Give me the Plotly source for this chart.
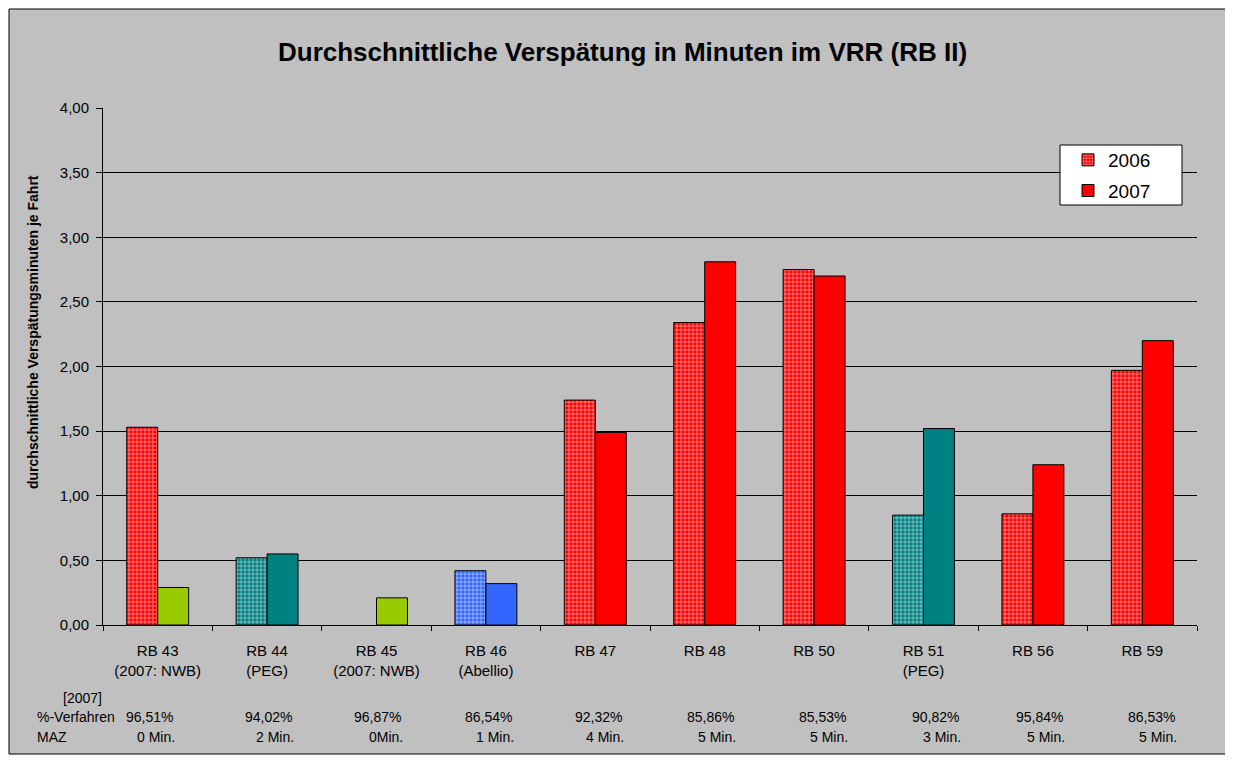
import plotly.graph_objects as go

# ---------------- data ----------------
categories = ["RB 43<br>(2007: NWB)", "RB 44<br>(PEG)", "RB 45<br>(2007: NWB)", "RB 46<br>(Abellio)",
              "RB 47", "RB 48", "RB 50", "RB 51<br>(PEG)", "RB 56", "RB 59"]
values_2006 = [1.53, 0.52, None, 0.42, 1.74, 2.34, 2.75, 0.85, 0.86, 1.97]
values_2007 = [0.29, 0.55, 0.21, 0.32, 1.49, 2.81, 2.70, 1.52, 1.24, 2.20]
verfahren_2007 = ["96,51%", "94,02%", "96,87%", "86,54%", "92,32%", "85,86%", "85,53%", "90,82%", "95,84%", "86,53%"]
maz_2007 = ["0 Min.", "2 Min.", "0Min.", "1 Min.", "4 Min.", "5 Min.", "5 Min.", "3 Min.", "5 Min.", "5 Min."]
series_names = ["2006", "2007"]
title_text = "Durchschnittliche Verspätung in Minuten im VRR (RB II)"
y_title = "durchschnittliche Verspätungsminuten je Fahrt"
y_ticks = [0, 0.5, 1.0, 1.5, 2.0, 2.5, 3.0, 3.5, 4.0]

# ---------------- style ----------------
RED, TEAL, BLUE, GREEN = "#FF0000", "#008080", "#3366FF", "#99CC00"
colors_2006 = [RED, TEAL, RED, BLUE, RED, RED, RED, TEAL, RED, RED]
colors_2007 = [GREEN, TEAL, GREEN, BLUE, RED, RED, RED, TEAL, RED, RED]
table_nudge = [17, 27, 26, 28, 29, 31, 34, 37, 32, 35]  # px right-edge nudges for table text

# page body has an 8px margin -> figure is 8px smaller, layout in reference coords via px/py
OFF = 8
W, H = 1233 - OFF, 762 - OFF
L, R, T, B = 103 - OFF, 36, 108 - OFF, 137
PW, PH = W - L - R, H - T - B
def px(x):  # reference pixel x -> paper
    return (x - OFF - L) / PW
def py(y):  # reference pixel y -> paper
    return (H - B - (y - OFF)) / PH

FONT = "Liberation Sans, Arial, sans-serif"
BW = 0.283
pattern = dict(shape="+", fgcolor="white", fgopacity=0.7, size=4, solidity=0.3)

fig = go.Figure()
fig.add_trace(go.Bar(
    x=categories, y=values_2006, name=series_names[0], showlegend=False,
    offset=-BW, width=BW,
    marker=dict(color=colors_2006, line=dict(color="black", width=1), pattern=pattern),
))
fig.add_trace(go.Bar(
    x=categories, y=values_2007, name=series_names[1], showlegend=False,
    offset=0, width=BW,
    marker=dict(color=colors_2007, line=dict(color="black", width=1)),
))
# legend-only entries
fig.add_trace(go.Bar(
    x=[categories[0]], y=[None], name=series_names[0], showlegend=True, legendgroup="a",
    marker=dict(color=RED, line=dict(color="black", width=1), pattern=pattern),
))
fig.add_trace(go.Bar(
    x=[categories[0]], y=[None], name=series_names[1], showlegend=True, legendgroup="b",
    marker=dict(color=RED, line=dict(color="black", width=1)),
))

annotations = []
annotations.append(dict(text="<b>" + title_text + "</b>", xref="paper", yref="paper",
                        x=px(622), y=py(52), xanchor="center", yanchor="middle", showarrow=False,
                        font=dict(family=FONT, size=26, color="black")))
annotations.append(dict(text="<b>" + y_title + "</b>", xref="paper", yref="paper",
                        x=px(33), y=py(332), xanchor="center", yanchor="middle", showarrow=False,
                        textangle=-90, font=dict(family=FONT, size=14, color="black")))
tf = dict(family=FONT, size=14, color="black")
annotations.append(dict(text="[2007]", xref="paper", yref="paper", x=px(82), y=py(698),
                        xanchor="center", yanchor="middle", showarrow=False, font=tf))
annotations.append(dict(text="%-Verfahren", xref="paper", yref="paper", x=px(35), y=py(717),
                        xanchor="left", yanchor="middle", showarrow=False, font=tf))
annotations.append(dict(text="MAZ", xref="paper", yref="paper", x=px(35), y=py(737),
                        xanchor="left", yanchor="middle", showarrow=False, font=tf))
for i, (pv, mz) in enumerate(zip(verfahren_2007, maz_2007)):
    annotations.append(dict(text=pv, xref="x", yref="paper", x=i, y=py(717), xshift=table_nudge[i],
                            xanchor="right", yanchor="middle", showarrow=False, font=tf))
    annotations.append(dict(text=mz, xref="x", yref="paper", x=i, y=py(737), xshift=table_nudge[i] + 2,
                            xanchor="right", yanchor="middle", showarrow=False, font=tf))

shapes = [
    dict(type="rect", xref="paper", yref="paper", x0=px(9), x1=px(1226), y0=py(754), y1=py(9),
         fillcolor="#C0C0C0", line=dict(color="black", width=1), layer="below"),
    dict(type="rect", xref="paper", yref="paper", x0=px(1060), x1=px(1182), y0=py(205), y1=py(145),
         fillcolor="white", line=dict(color="black", width=1), layer="above"),
]

fig.update_layout(
    width=W, height=H, autosize=False,
    margin=dict(l=L, r=R, t=T, b=B, pad=0),
    paper_bgcolor="white", plot_bgcolor="white",
    barmode="overlay",
    separators=", ",
    font=dict(family=FONT, size=15, color="black"),
    showlegend=True,
    legend=dict(x=px(1068), y=py(141), xanchor="left", yanchor="top",
                bgcolor="rgba(0,0,0,0)", borderwidth=0, traceorder="grouped",
                font=dict(family=FONT, size=19, color="black"),
                itemwidth=30, tracegroupgap=3),
    annotations=annotations,
    shapes=shapes,
    xaxis=dict(type="category", showgrid=False, showline=True, linecolor="black", linewidth=1,
               ticks="outside", ticklen=5, tickcolor="black", tickson="boundaries",
               tickfont=dict(family=FONT, size=15, color="black"), ticklabelstandoff=12,
               range=[-0.5, len(categories) - 0.5]),
    yaxis=dict(range=[0, 4], tickvals=y_ticks, tickformat=".2f", showgrid=True, gridcolor="black",
               gridwidth=1, showline=True, linecolor="black", linewidth=1, ticks="outside",
               ticklen=6, tickcolor="black", zeroline=False, ticklabelstandoff=4,
               tickfont=dict(family=FONT, size=15, color="black")),
)

fig.write_html("out.html")
